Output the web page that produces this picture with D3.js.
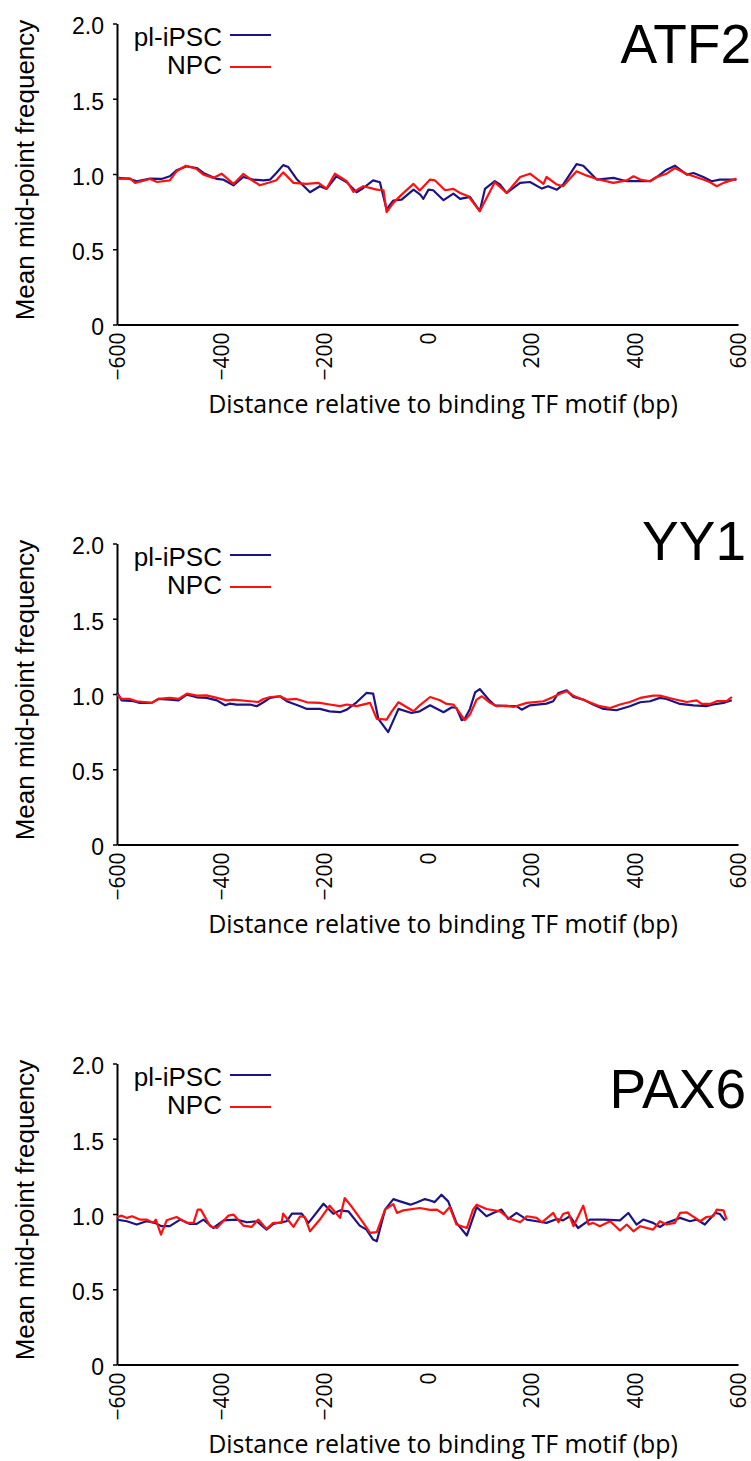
<!DOCTYPE html>
<html><head><meta charset="utf-8">
<script src="https://cdn.jsdelivr.net/npm/d3@7"></script>
<style>body{margin:0;background:#fff}svg{display:block}</style>
</head><body><svg id="chart" width="751" height="1461"></svg>
<script>
// ---------- data ----------
const panelTitles = ["ATF2", "YY1", "PAX6"];
const seriesNames = ["pl-iPSC", "NPC"];
const xTickValues = [-600, -400, -200, 0, 200, 400, 600];
const yTickValues = [0, 0.5, 1.0, 1.5, 2.0];
const yTickLabels = ["0", "0.5", "1.0", "1.5", "2.0"];
const xTitle = "Distance relative to binding TF motif (bp)";
const yTitle = "Mean mid-point frequency";

// [distance (bp), mean mid-point frequency]
const atf2Ipsc = [[-597,0.974],[-575,0.967],[-562,0.952],[-536,0.969],[-514,0.967],[-498,0.985],[-485,1.024],[-465,1.051],[-446,1.040],[-433,1.007],[-407,0.967],[-395,0.963],[-375,0.925],[-356,0.980],[-337,0.963],[-317,0.958],[-304,0.963],[-292,1.007],[-279,1.059],[-269,1.046],[-253,0.967],[-227,0.879],[-208,0.919],[-195,0.901],[-176,0.985],[-156,0.945],[-137,0.879],[-124,0.907],[-105,0.958],[-92,0.945],[-79,0.764],[-66,0.824],[-50,0.830],[-27,0.896],[-14,0.863],[-8,0.835],[2,0.896],[11,0.892],[31,0.826],[50,0.870],[63,0.835],[82,0.848],[101,0.753],[111,0.901],[130,0.952],[140,0.930],[153,0.874],[179,0.941],[198,0.947],[221,0.903],[233,0.919],[250,0.896],[262,0.930],[288,1.066],[301,1.055],[327,0.963],[346,0.969],[359,0.974],[385,0.952],[411,0.952],[430,0.952],[443,0.980],[462,1.029],[478,1.055],[501,0.996],[514,1.007],[533,0.980],[549,0.952],[565,0.963],[584,0.963],[597,0.963]];
const atf2Npc = [[-597,0.967],[-575,0.971],[-565,0.941],[-536,0.967],[-523,0.947],[-498,0.958],[-485,1.018],[-467,1.055],[-446,1.033],[-433,0.996],[-414,0.974],[-398,1.002],[-375,0.934],[-356,1.000],[-343,0.967],[-324,0.925],[-304,0.945],[-292,0.958],[-279,1.011],[-259,0.941],[-234,0.934],[-211,0.941],[-195,0.903],[-179,1.002],[-156,0.952],[-143,0.881],[-124,0.919],[-98,0.896],[-85,0.892],[-79,0.747],[-66,0.808],[-50,0.863],[-27,0.934],[-15,0.890],[5,0.963],[14,0.958],[34,0.892],[50,0.901],[63,0.874],[79,0.852],[101,0.753],[130,0.945],[153,0.874],[179,0.980],[198,1.002],[224,0.934],[230,0.980],[250,0.930],[262,0.919],[288,1.018],[308,0.989],[327,0.967],[359,0.941],[385,0.958],[398,0.985],[411,0.963],[430,0.952],[443,0.980],[462,1.002],[478,1.040],[501,1.000],[533,0.963],[546,0.945],[559,0.919],[572,0.941],[597,0.969]];

const yy1Ipsc = [[-600,1.011],[-591,0.958],[-568,0.952],[-556,0.941],[-533,0.941],[-520,0.967],[-498,0.963],[-481,0.958],[-465,0.996],[-446,0.978],[-427,0.974],[-407,0.958],[-391,0.925],[-382,0.936],[-369,0.930],[-343,0.930],[-330,0.919],[-317,0.945],[-304,0.974],[-285,0.985],[-272,0.952],[-246,0.919],[-233,0.901],[-208,0.901],[-189,0.885],[-169,0.879],[-156,0.896],[-137,0.945],[-118,1.007],[-105,1.002],[-95,0.835],[-76,0.747],[-56,0.901],[-31,0.874],[-15,0.885],[5,0.925],[31,0.879],[47,0.912],[56,0.907],[66,0.826],[72,0.835],[82,0.901],[92,1.011],[101,1.033],[118,0.963],[130,0.925],[153,0.919],[172,0.919],[182,0.896],[198,0.925],[230,0.936],[243,0.952],[253,1.007],[269,1.024],[282,0.980],[301,0.963],[320,0.930],[340,0.901],[365,0.892],[391,0.919],[411,0.945],[430,0.952],[449,0.974],[462,0.967],[488,0.934],[514,0.925],[539,0.919],[552,0.930],[572,0.941],[588,0.958]];
const yy1Npc = [[-600,0.996],[-591,0.967],[-575,0.967],[-562,0.952],[-533,0.941],[-520,0.967],[-498,0.974],[-481,0.967],[-465,1.002],[-446,0.989],[-427,0.991],[-407,0.974],[-388,0.958],[-375,0.963],[-343,0.952],[-327,0.947],[-317,0.967],[-304,0.980],[-285,0.985],[-272,0.963],[-253,0.967],[-233,0.945],[-208,0.941],[-189,0.930],[-169,0.919],[-156,0.930],[-137,0.919],[-111,0.941],[-98,0.835],[-79,0.830],[-69,0.885],[-56,0.945],[-27,0.885],[-15,0.925],[5,0.980],[24,0.958],[37,0.934],[50,0.930],[60,0.885],[72,0.826],[82,0.863],[95,0.963],[105,0.985],[121,0.941],[134,0.919],[153,0.923],[166,0.914],[192,0.941],[224,0.952],[243,0.980],[256,1.002],[269,1.018],[282,0.989],[308,0.952],[333,0.919],[353,0.907],[372,0.930],[391,0.947],[411,0.974],[436,0.989],[449,0.989],[475,0.967],[501,0.947],[520,0.958],[530,0.934],[546,0.934],[559,0.952],[578,0.952],[588,0.980]];

const pax6Ipsc = [[-600,0.963],[-581,0.952],[-562,0.930],[-543,0.952],[-527,0.941],[-514,0.919],[-498,0.919],[-478,0.963],[-459,0.934],[-446,0.934],[-433,0.963],[-414,0.907],[-394,0.958],[-369,0.963],[-349,0.945],[-330,0.952],[-311,0.896],[-298,0.934],[-272,0.952],[-262,1.002],[-243,1.002],[-230,0.941],[-201,1.068],[-182,1.002],[-169,1.024],[-153,1.018],[-131,0.923],[-118,0.896],[-105,0.830],[-98,0.819],[-82,1.029],[-66,1.099],[-53,1.084],[-33,1.062],[-21,1.077],[-5,1.099],[5,1.090],[14,1.079],[27,1.128],[40,1.084],[56,0.941],[76,0.857],[95,1.046],[114,0.985],[127,1.007],[143,1.029],[156,0.967],[172,1.007],[192,0.963],[211,0.952],[230,0.941],[250,0.967],[262,0.958],[275,0.985],[291,0.907],[314,0.963],[340,0.963],[372,0.958],[388,1.007],[404,0.930],[417,0.963],[436,0.941],[449,0.914],[462,0.941],[488,0.974],[507,0.952],[520,0.963],[536,0.930],[556,1.007],[565,1.000],[575,0.956]];
const pax6Npc = [[-600,0.978],[-591,0.989],[-581,0.974],[-571,0.985],[-556,0.963],[-543,0.963],[-530,0.941],[-525,0.963],[-515,0.863],[-504,0.958],[-485,0.980],[-465,0.941],[-452,0.941],[-444,1.029],[-438,1.029],[-420,0.919],[-407,0.907],[-385,0.989],[-375,0.996],[-356,0.923],[-340,0.914],[-327,0.963],[-311,0.901],[-298,0.941],[-282,0.941],[-279,1.002],[-259,0.914],[-246,0.985],[-237,0.980],[-227,0.885],[-208,0.963],[-189,1.055],[-169,0.974],[-160,1.106],[-147,1.051],[-124,0.941],[-111,0.874],[-98,0.879],[-82,1.029],[-66,1.066],[-59,1.007],[-47,1.024],[-15,1.040],[5,1.027],[18,1.029],[31,1.000],[43,1.046],[56,0.930],[76,0.907],[88,1.029],[95,1.062],[114,1.033],[140,1.018],[156,0.974],[179,0.945],[192,0.985],[211,0.974],[221,0.945],[243,1.007],[253,0.945],[262,1.000],[272,1.011],[282,0.919],[301,1.055],[311,0.930],[320,0.941],[333,0.919],[353,0.952],[372,0.890],[385,0.930],[398,0.885],[411,0.919],[436,0.896],[449,0.952],[462,0.930],[478,0.941],[488,1.007],[501,1.011],[527,0.952],[539,0.980],[552,0.985],[559,1.029],[572,1.024],[578,0.963]];

const panelSeries = [[atf2Ipsc, atf2Npc], [yy1Ipsc, yy1Npc], [pax6Ipsc, pax6Npc]];
const seriesColors = ["#1c1485", "#ff1010"];

// ---------- layout ----------
const svg = d3.select("#chart");
const panelStep = 520;
const plotLeft = 117, plotRight = 738;
const yZero = 324.5, yTop = 23.5;
const titlePos = [{x: 751, y: 63}, {x: 746, y: 40}, {x: 746, y: 68}];
const armFont = "'Liberation Sans', Arial, sans-serif";
const myrFont = "'Open Sans', 'Noto Sans', sans-serif";

const x = d3.scaleLinear().domain([-600, 600]).range([plotLeft, plotRight]);
const y = d3.scaleLinear().domain([0, 2]).range([yZero, yTop]);

panelSeries.forEach((series, i) => {
  const g = svg.append("g").attr("transform", `translate(0,${i * panelStep})`);

  // y axis
  const yAxis = d3.axisLeft(y).tickValues(yTickValues)
    .tickFormat((d, k) => yTickLabels[k]).tickSize(4).tickSizeOuter(0).tickPadding(9);
  const ya = g.append("g").attr("transform", `translate(${plotLeft},0)`).call(yAxis);
  ya.select(".domain").attr("stroke", "#000").attr("stroke-width", 2);
  ya.selectAll(".tick line").attr("stroke", "#000").attr("stroke-width", 1.5);
  ya.selectAll(".tick text").attr("font-family", armFont).attr("font-size", 23)
    .attr("fill", "#000").attr("dy", "0.45em");

  // x axis
  const xAxis = d3.axisBottom(x).tickValues(xTickValues).tickSize(0).tickSizeOuter(0);
  const xa = g.append("g").attr("transform", `translate(0,${yZero})`).call(xAxis);
  xa.select(".domain").attr("stroke", "#000").attr("stroke-width", 2.2);
  xa.selectAll(".tick text")
    .attr("font-family", myrFont).attr("font-size", 21).attr("fill", "#000")
    .attr("text-anchor", "end").attr("y", 0).attr("dy", "0.36em")
    .attr("transform", "translate(0,8) rotate(-90)");

  // y title
  g.append("text").attr("transform", `translate(34,${(yZero + yTop) / 2 - 4}) rotate(-90)`)
    .attr("text-anchor", "middle").attr("font-family", armFont).attr("font-size", 26)
    .text(yTitle);

  // x title
  const xt = g.append("text").attr("x", 443).attr("y", 413)
    .attr("text-anchor", "middle").attr("font-family", myrFont).attr("font-size", 21)
    .text(xTitle);
  const w = xt.node().getComputedTextLength();
  if (w > 0) xt.attr("font-size", 21 * 470 / w);

  // lines
  const line = d3.line().x(d => x(d[0])).y(d => y(d[1]));
  series.forEach((s, k) => {
    g.append("path").datum(s).attr("d", line).attr("fill", "none")
      .attr("stroke", seriesColors[k]).attr("stroke-width", 2.2)
      .attr("stroke-linejoin", "round");
  });

  // legend
  seriesNames.forEach((name, k) => {
    const ly = 35 + k * 32;
    g.append("text").attr("x", 222).attr("y", ly + 11 - (k === 0 ? 0 : 4))
      .attr("text-anchor", "end").attr("font-family", armFont).attr("font-size", 26)
      .text(name);
    g.append("line").attr("x1", 230).attr("x2", 271).attr("y1", ly).attr("y2", ly)
      .attr("stroke", seriesColors[k]).attr("stroke-width", 2.2);
  });

  // title
  g.append("text").attr("x", titlePos[i].x).attr("y", titlePos[i].y)
    .attr("text-anchor", "end").attr("font-family", armFont).attr("font-size", 55)
    .text(panelTitles[i]);
});
</script>
</body></html>
